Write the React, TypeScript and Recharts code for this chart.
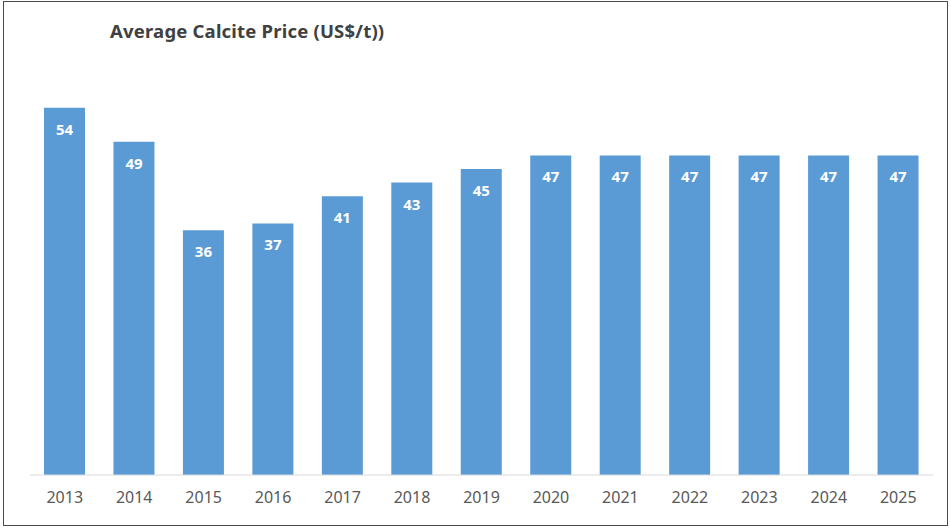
import * as React from 'react';
import { BarChart, Bar, XAxis, YAxis, LabelList } from 'recharts';

const years = ['2013', '2014', '2015', '2016', '2017', '2018', '2019', '2020', '2021', '2022', '2023', '2024', '2025'];
const prices = [54, 49, 36, 37, 41, 43, 45, 47, 47, 47, 47, 47, 47];

const data = years.map((year, i) => ({ year, price: prices[i] }));

const FONT = '"Noto Sans", "Open Sans", sans-serif';

function BarValue(props: any) {
  const { x, y, width, value } = props;
  return (
    <text
      x={x + width / 2}
      y={y + 21}
      textAnchor="middle"
      dominantBaseline="central"
      fill="#ffffff"
      fontSize={15}
      fontWeight={700}
      fontFamily={FONT}
    >
      {value}
    </text>
  );
}

export default function App() {
  return (
    <div style={{ position: 'absolute', left: 0, top: 0, width: 950, height: 527, background: '#fff' }}>
      <div
        style={{
          position: 'absolute',
          left: 3,
          top: 1,
          width: 943,
          height: 523,
          border: '1px solid #4a4a4a',
        }}
      />
      <div
        style={{
          position: 'absolute',
          left: 110,
          top: 18,
          fontFamily: FONT,
          fontWeight: 700,
          fontSize: 18.5,
          letterSpacing: 0.2,
          color: '#404040',
          whiteSpace: 'nowrap',
        }}
      >
        Average Calcite Price (US$/t))
      </div>
      <div style={{ position: 'absolute', left: 0, top: 0 }}>
        <BarChart width={950} height={527} data={data} margin={{ top: 67, right: 17, left: 30, bottom: 22 }}>
          <XAxis
            dataKey="year"
            height={30}
            axisLine={{ stroke: '#d9d9d9', strokeWidth: 1 }}
            tickLine={false}
            tickMargin={11}
            tick={{ fill: '#595959', fontSize: 16, fontFamily: FONT }}
            interval={0}
          />
          <YAxis hide domain={[0, 60]} />
          <Bar dataKey="price" fill="#5b9bd5" barSize={41} isAnimationActive={false}>
            <LabelList dataKey="price" content={<BarValue />} />
          </Bar>
        </BarChart>
      </div>
    </div>
  );
}
